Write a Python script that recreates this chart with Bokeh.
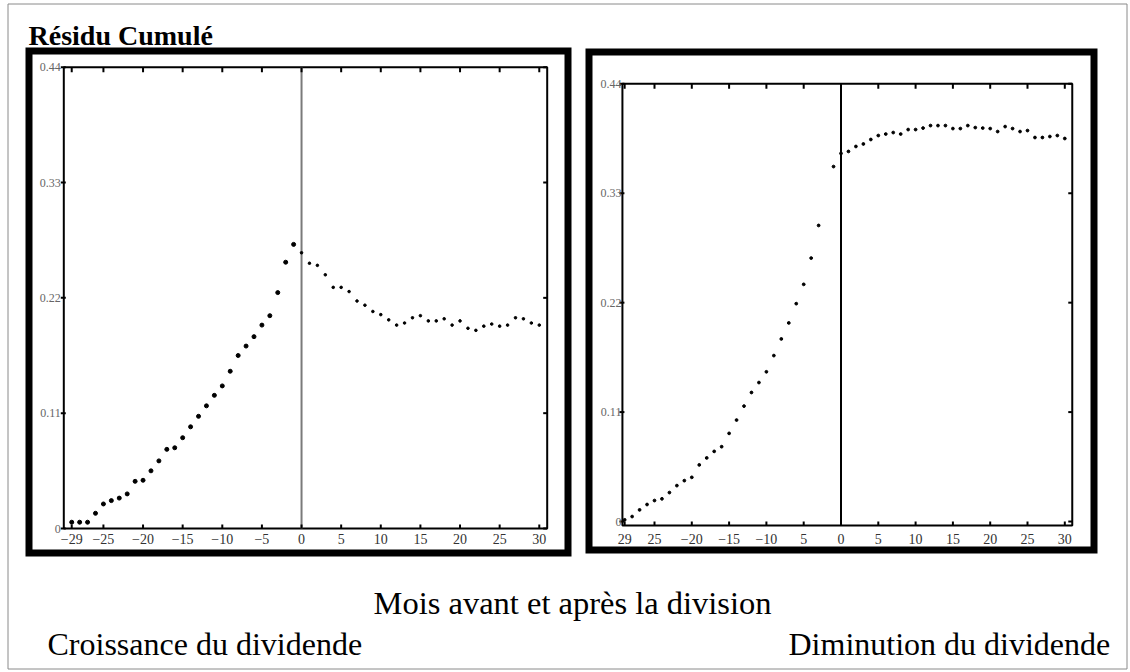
from bokeh.plotting import figure
from bokeh.models import Range1d
from bokeh.embed import file_html
from bokeh.resources import INLINE
from bokeh.core.properties import value

# ---------------- data ----------------
title_text = "Résidu Cumulé"
xaxis_text = "Mois avant et après la division"
left_caption = "Croissance du dividende"
right_caption = "Diminution du dividende"

y_ticks = [0, 0.11, 0.22, 0.33, 0.44]
y_tick_labels = ["0", "0.11", "0.22", "0.33", "0.44"]
x_ticks = [-29, -25, -20, -15, -10, -5, 0, 5, 10, 15, 20, 25, 30]
x_tick_labels_left = ["\u221229", "\u221225", "\u221220", "\u221215", "\u221210", "\u22125",
                      "0", "5", "10", "15", "20", "25", "30"]
x_tick_labels_right = ["29", "25", "\u221220", "\u221215", "\u221210", "5",
                       "0", "5", "10", "15", "20", "25", "30"]

# Left panel: dividend increase
left_pre_months = list(range(-29, 0))
left_pre_values = [0.006, 0.006, 0.006, 0.0145, 0.0234, 0.0266, 0.029, 0.033, 0.045, 0.046,
                   0.055, 0.0645, 0.0755, 0.077, 0.0866, 0.097, 0.107, 0.117, 0.127, 0.136,
                   0.150, 0.165, 0.174, 0.183, 0.194, 0.203, 0.225, 0.254, 0.271]
left_post_months = list(range(0, 31))
left_post_values = [0.263, 0.253, 0.251, 0.242, 0.230, 0.230, 0.226, 0.217, 0.213, 0.207,
                    0.204, 0.199, 0.194, 0.196, 0.201, 0.203, 0.198, 0.198, 0.200, 0.194,
                    0.198, 0.191, 0.189, 0.193, 0.195, 0.193, 0.194, 0.201, 0.200, 0.196,
                    0.194]

# Right panel: dividend decrease
right_pre_months = [-29, -28, -27, -26, -25, -24, -23, -22, -21, -20, -19, -18, -17, -16,
                    -15, -14, -13, -12, -11, -10, -9, -8, -7, -6, -5, -4, -3, -1]
right_pre_values = [0.0017, 0.005, 0.0117, 0.0171, 0.0211, 0.0228, 0.0291, 0.0361, 0.0411,
                    0.0444, 0.0569, 0.0639, 0.0705, 0.0752, 0.0886, 0.102, 0.116, 0.1297,
                    0.1397, 0.1505, 0.1668, 0.1835, 0.1996, 0.219, 0.2384, 0.2648, 0.2976,
                    0.3568]
right_post_months = list(range(0, 31))
right_post_values = [0.370, 0.372, 0.377, 0.3795, 0.384, 0.388, 0.3895, 0.391, 0.3895, 0.394,
                     0.394, 0.3955, 0.398, 0.398, 0.398, 0.395, 0.395, 0.398, 0.396, 0.3955,
                     0.395, 0.392, 0.397, 0.395, 0.392, 0.393, 0.386, 0.386, 0.387, 0.388,
                     0.385]

# ---------------- layout ----------------
W, H = 1130, 672
M = 0  # canvas sits at the page origin

p = figure(width=W, height=H, x_range=Range1d(0, W), y_range=Range1d(H, 0),
           output_backend="svg", toolbar_location=None, min_border=0,
           x_axis_type=None, y_axis_type=None)
p.outline_line_color = None
p.background_fill_color = "white"
p.border_fill_color = "white"

SERIF = value("Liberation Serif")


def add_panel(name, sx0, sx1, x0, x1, sy_top, sy_bot, y_top, y_bot):
    """Define extra ranges so that data [x0,x1]x[y_bot,y_top] maps to the given screen box."""
    fx0, fx1 = sx0 - M, sx1 - M
    kx = (x1 - x0) / (fx1 - fx0)
    p.extra_x_ranges[name] = Range1d(x0 - fx0 * kx, x0 + (W - fx0) * kx)
    fyt, fyb = sy_top - M, sy_bot - M
    ky = (y_top - y_bot) / (fyb - fyt)
    p.extra_y_ranges[name] = Range1d(y_bot - (H - fyb) * ky, y_top + fyt * ky)
    return kx, ky


def draw_axes(name, x0, x1, y_bot, y_top, kx, ky, xlabels, zero_color, ylab_gap, xlab_gap):
    rn = dict(x_range_name=name, y_range_name=name)
    # box
    p.quad(left=[x0], right=[x1], bottom=[y_bot], top=[y_top], fill_color=None,
           line_color="black", line_width=2, **rn)
    # zero line
    p.segment(x0=[0], x1=[0], y0=[y_bot], y1=[y_top], line_color=zero_color, line_width=2, **rn)
    # x ticks (inward, top and bottom)
    p.segment(x0=x_ticks, x1=x_ticks, y0=[y_top] * len(x_ticks),
              y1=[y_top - 5 * ky] * len(x_ticks), line_color="black", line_width=2, **rn)
    p.segment(x0=x_ticks, x1=x_ticks, y0=[y_bot] * len(x_ticks),
              y1=[y_bot + 4 * ky] * len(x_ticks), line_color="black", line_width=2, **rn)
    # y ticks (left and right)
    p.segment(x0=[x0 - 3 * kx] * len(y_ticks), x1=[x0 + 2 * kx] * len(y_ticks),
              y0=y_ticks, y1=y_ticks, line_color="black", line_width=2, **rn)
    p.segment(x0=[x1] * len(y_ticks), x1=[x1 - 4 * kx] * len(y_ticks),
              y0=y_ticks, y1=y_ticks, line_color="black", line_width=2, **rn)
    # tick labels
    p.text(x=x_ticks, y=[y_bot - xlab_gap * ky] * len(x_ticks), text=xlabels,
           text_font=SERIF, text_font_size="14px", text_color="#333333",
           text_align="center", text_baseline="middle", **rn)
    p.text(x=[x0 - ylab_gap * kx] * len(y_ticks), y=y_ticks, text=y_tick_labels,
           text_font=SERIF, text_font_size="12px", text_color="#666666",
           text_align="right", text_baseline="middle", **rn)


# outer thin border
p.quad(left=[7.5], right=[1126.5], top=[3.5], bottom=[668.5], fill_color=None,
       line_color="#8a8a8a", line_width=1)

# thick black frames around each panel
p.quad(left=[28.5 - M], right=[567.5 - M], top=[50.5 - M], bottom=[552.5 - M],
       fill_color=None, line_color="black", line_width=7, line_join="miter")
p.quad(left=[588.5 - M], right=[1093.5 - M], top=[51.5 - M], bottom=[549.5 - M],
       fill_color=None, line_color="black", line_width=7, line_join="miter")

# left panel
LX0, LX1, LYB, LYT = -30, 31, 0.0, 0.44
kxL, kyL = add_panel("L", 63.3, 546.7, LX0, LX1, 66.7, 528.0, LYT, LYB)
draw_axes("L", LX0, LX1, LYB, LYT, kxL, kyL, x_tick_labels_left, "#7a7a7a", 3, 10)
p.scatter(left_pre_months, left_pre_values, size=4, color="black",
          x_range_name="L", y_range_name="L")
p.scatter(left_post_months, left_post_values, size=2.6, color="black",
          x_range_name="L", y_range_name="L")

# right panel
RX0, RX1, RYB, RYT = -29.3, 31.0, -0.004, 0.44
sx_r0 = 840.5 + RX0 * 7.46
sx_r1 = 840.5 + RX1 * 7.46
kxR, kyR = add_panel("R", sx_r0, sx_r1, RX0, RX1, 83.3, 525.0, RYT, RYB)
draw_axes("R", RX0, RX1, RYB, RYT, kxR, kyR, x_tick_labels_right, "black", 1, 13)
p.scatter(right_pre_months, right_pre_values, size=2.8, color="black",
          x_range_name="R", y_range_name="R")
p.scatter(right_post_months, right_post_values, size=2.8, color="black",
          x_range_name="R", y_range_name="R")

# texts
p.text(x=[28 - M], y=[35 - M], text=[title_text], text_font=SERIF, text_font_style="bold",
       text_font_size="28px", text_color="black", text_baseline="alphabetic")
p.text(x=[373 - M], y=[602 - M], text=[xaxis_text], text_font=SERIF,
       text_font_size="32.5px", text_color="black", text_baseline="alphabetic")
p.text(x=[47 - M], y=[643 - M], text=[left_caption], text_font=SERIF,
       text_font_size="32px", text_color="black", text_baseline="alphabetic")
p.text(x=[788 - M], y=[643 - M], text=[right_caption], text_font=SERIF,
       text_font_size="32px", text_color="black", text_baseline="alphabetic")

open("out.html", "w").write(file_html(p, INLINE))
